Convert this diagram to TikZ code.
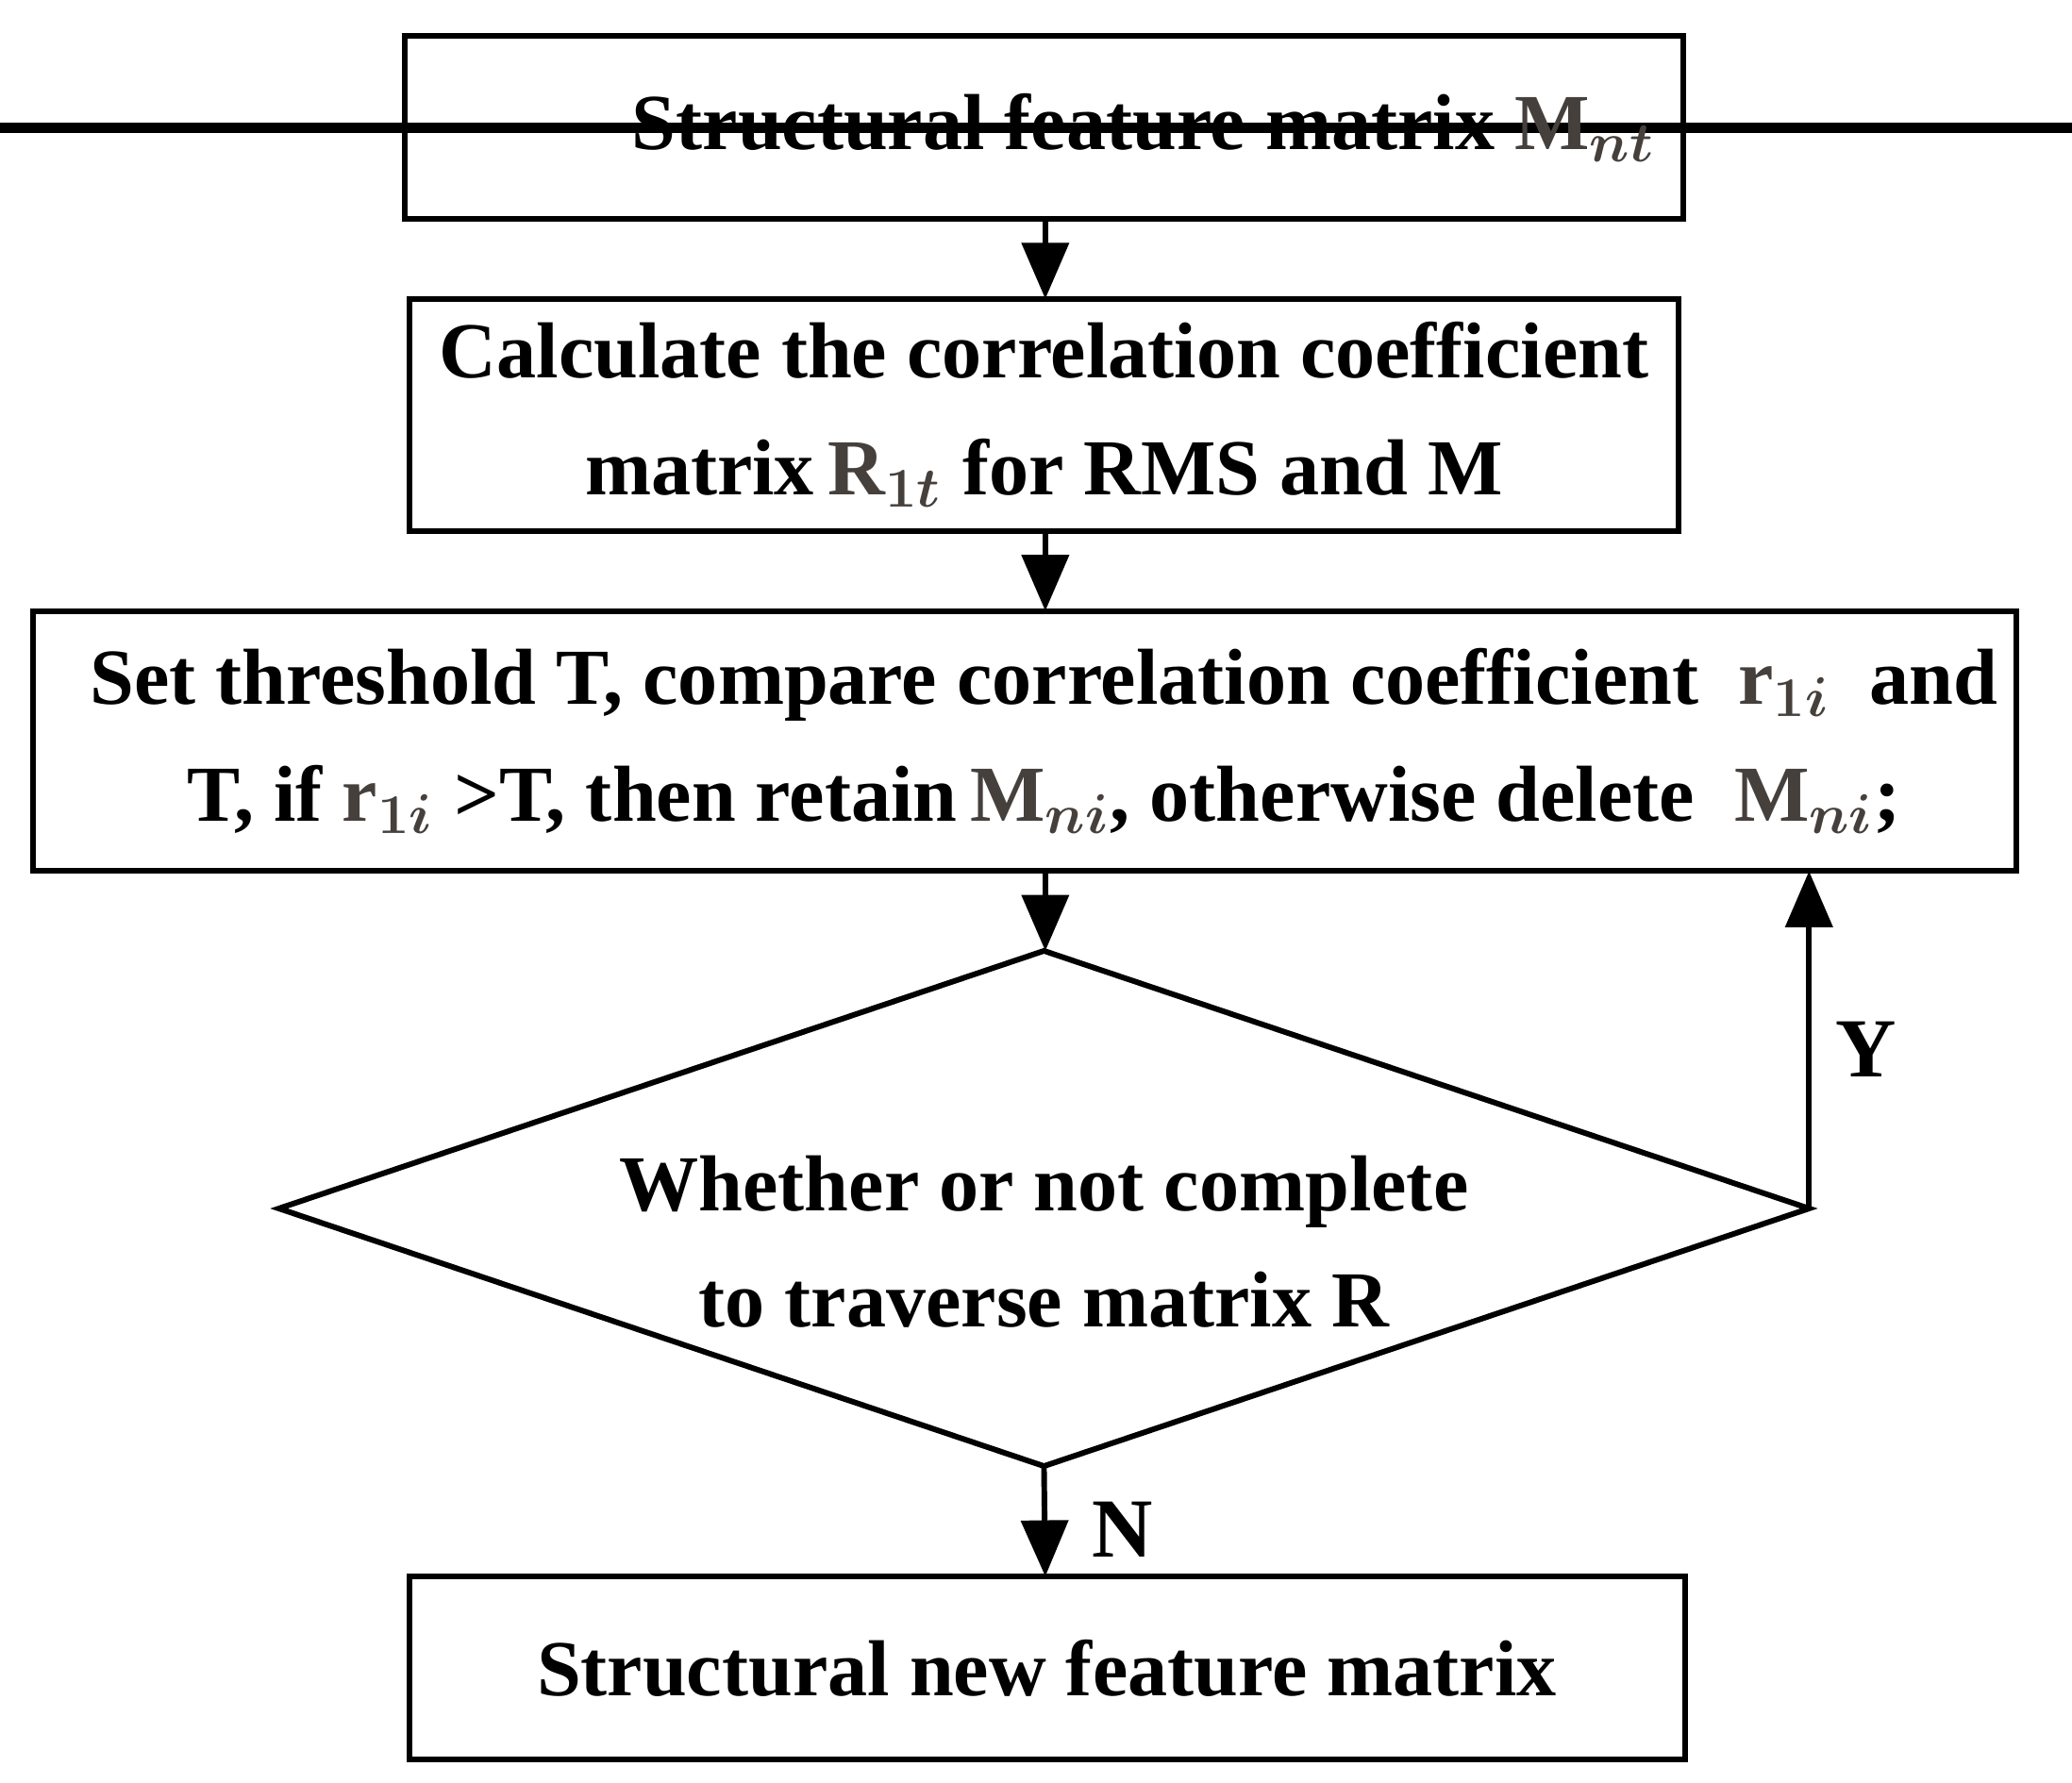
\documentclass[tikz,border=0pt]{standalone}
\usepackage{fontspec}
\setmainfont{Liberation Serif}
\usetikzlibrary{arrows.meta}
\definecolor{mg}{RGB}{70,64,60}
\newcommand{\mv}[2]{{\color{mg}\textbf{#1}$_{\boldsymbol{#2}}$}}
\usepackage{amsmath,bm}
\begin{document}
\begin{tikzpicture}[x=0.01cm,y=-0.01cm,
  box/.style={draw,line width=1.2pt,font=\fontsize{17}{25}\selectfont\bfseries,align=center,inner sep=0pt},
  arr/.style={line width=1.2pt,-{Triangle[length=12pt,width=10pt]}},
  lab/.style={font=\fontsize{18}{22}\selectfont\bfseries}]
\useasboundingbox (0,0) rectangle (1560,1342);
\node[box,minimum width=962\pgflinewidth] (b1) at (786,96) {};
\draw[line width=1.2pt] (305,27) rectangle (1267,165);
\node[box,draw=none] (b1) at (786,96) {\hspace*{1.5cm}Structural feature matrix \mv{M}{nt}};
\coordinate (b1s) at (787,165);
\draw[line width=1.2pt] (308,225) rectangle (1264,400);
\node[box,draw=none] (b2) at (786,312) {Calculate the correlation coefficient\\matrix\,\mv{R}{1t} for RMS and M};
\coordinate (b2n) at (787,225);\coordinate (b2s) at (787,400);
\draw[line width=1.2pt] (25,460) rectangle (1518,656);
\node[box,draw=none] (b3) at (786,558) {Set threshold T, compare correlation coefficient \ \mv{r}{1i}\ \ and\\T, if \mv{r}{1i}\ >T, then retain\,\mv{M}{ni}, otherwise delete \ \mv{M}{ni};};
\coordinate (b3n) at (787,460);\coordinate (b3s) at (787,656);\coordinate (b3r) at (1362,656);
\draw[line width=1.2pt] (786,716) -- (1362,910) -- (786,1104) -- (210,910) -- cycle;
\node[box,draw=none] (d) at (786,935) {Whether or not complete\\to traverse matrix R};
\coordinate (dt) at (787,716);\coordinate (dr) at (1362,910);\coordinate (db) at (786,1104);
\draw[line width=1.2pt] (308,1187) rectangle (1269,1325);
\node[box,draw=none] (b4) at (788,1256) {Structural new feature matrix};
\coordinate (b4n) at (787,1187);
\draw[arr] (b1s) -- (b2n);
\draw[arr] (b2s) -- (b3n);
\draw[arr] (b3s) -- (dt);
\draw[arr] (dr) -- (b3r);
\draw[arr] (db) -- (b4n);
\node[lab] (y) at (1405,790) {Y};
\node[lab] (n) at (845,1152) {N};
\end{tikzpicture}
\end{document}
